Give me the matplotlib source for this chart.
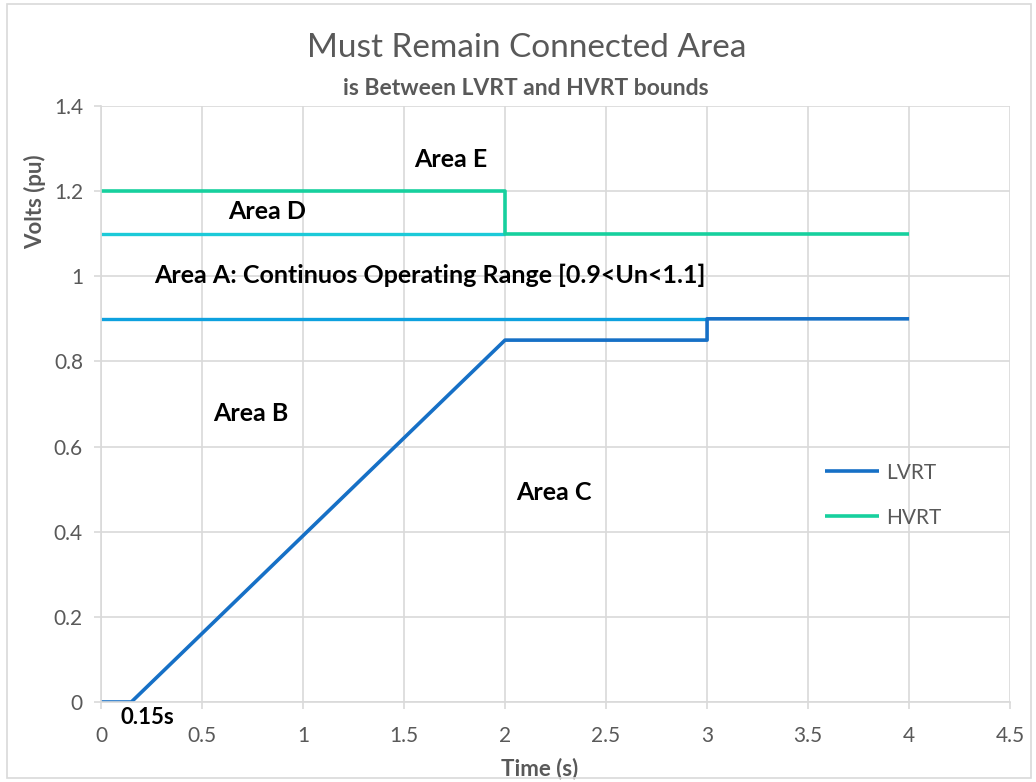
import matplotlib.pyplot as plt
from matplotlib.patches import Rectangle

plt.rcParams['font.family'] = ['Lato', 'DejaVu Sans']

# LVRT / HVRT curves
lvrt_t = [0, 0.15, 2, 3, 3, 4]
lvrt_v = [0, 0, 0.85, 0.85, 0.9, 0.9]
hvrt_t = [0, 2, 2, 4]
hvrt_v = [1.2, 1.2, 1.1, 1.1]

# continuous operating range limits
lower_t = [0, 3]
lower_v = [0.9, 0.9]
upper_t = [0, 2]
upper_v = [1.1, 1.1]

area_labels = ['Area E', 'Area D', 'Area A: Continuos Operating Range [0.9<Un<1.1]',
               'Area B', 'Area C', '0.15s']
area_x = [1.73, 0.82, 1.63, 0.74, 2.24, 0.23]
area_y = [1.275, 1.152, 1.003, 0.677, 0.491, -0.037]

xticks = [0, 0.5, 1, 1.5, 2, 2.5, 3, 3.5, 4, 4.5]
yticks = [0, 0.2, 0.4, 0.6, 0.8, 1, 1.2, 1.4]

grid_c = '#d9d9d9'
text_c = '#595959'

fig = plt.figure(figsize=(10.36, 7.82), dpi=100)
fig.patches.append(Rectangle((0.007, 0.005), 0.988, 0.99, transform=fig.transFigure,
                             fill=False, edgecolor=grid_c, lw=1.2))
ax = fig.add_axes([0.0975, 0.1023, 0.8775, 0.7622])

ax.plot(lower_t, lower_v, color='#0ea1df', lw=2.4, solid_capstyle='butt')
ax.plot(upper_t, upper_v, color='#1ccad8', lw=2.4, solid_capstyle='butt')
ax.plot(lvrt_t, lvrt_v, color='#1670c6', lw=2.6, label='LVRT', solid_capstyle='butt')
ax.plot(hvrt_t, hvrt_v, color='#17d09e', lw=2.6, label='HVRT', solid_capstyle='butt')

for lab, x, y in zip(area_labels, area_x, area_y):
    fs = 16 if lab == '0.15s' else 18
    ax.text(x, y, lab, ha='center', va='center', fontsize=fs, fontweight='bold', color='black')

ax.set_xlim(0, 4.5)
ax.set_ylim(0, 1.4)
ax.set_xticks(xticks)
ax.set_xticklabels([f'{v:g}' for v in xticks])
ax.set_yticks(yticks)
ax.set_yticklabels([f'{v:g}' for v in yticks])
ax.tick_params(colors=grid_c, labelcolor=text_c, labelsize=15, length=5, width=1.2)
ax.tick_params(axis='x', pad=12)
ax.tick_params(axis='y', pad=8)
ax.grid(True, color=grid_c, lw=1.2)
ax.set_axisbelow(True)
for s in ['top', 'right']:
    ax.spines[s].set_visible(False)
for s in ['left', 'bottom']:
    ax.spines[s].set_color(grid_c)
    ax.spines[s].set_linewidth(1.2)

ax.set_xlabel('Time (s)', fontsize=16, fontweight='bold', color=text_c, va='center')
ax.set_ylabel('Volts (pu)', fontsize=16, fontweight='bold', color=text_c, va='center')
ax.xaxis.set_label_coords(0.483, -0.111)
ax.yaxis.set_label_coords(-0.073, 0.839)

fig.text(0.508, 0.938, 'Must Remain Connected Area', ha='center', va='center',
         fontsize=24, color=text_c)
fig.text(0.508, 0.887, 'is Between LVRT and HVRT bounds', ha='center', va='center',
         fontsize=16.5, fontweight='bold', color=text_c)

leg = ax.legend(loc='center left', bbox_to_anchor=(0.776, 0.347), frameon=False,
                fontsize=15, labelspacing=1.2, handlelength=2.6, handletextpad=0.3)
for t in leg.get_texts():
    t.set_color(text_c)

fig.savefig('out.png', dpi=100)
